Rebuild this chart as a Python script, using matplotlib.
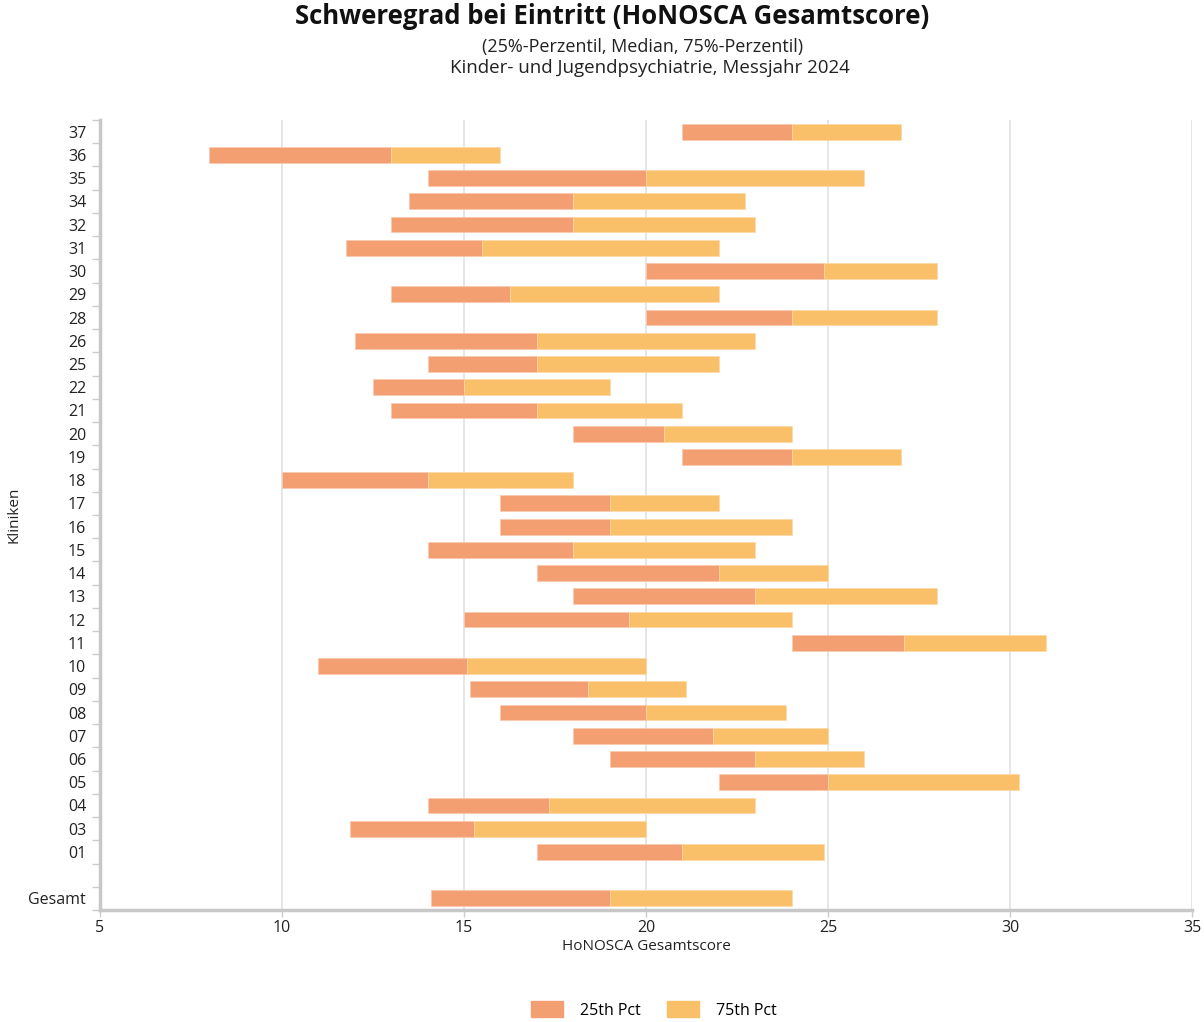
import numpy as np
import matplotlib
matplotlib.use('Agg')
import matplotlib.pyplot as plt
import matplotlib.patches as mpatches
from matplotlib.ticker import FixedLocator

# clinic labels, top to bottom ('' is the empty spacer row before Gesamt)
kliniken = ['37', '36', '35', '34', '32', '31', '30', '29', '28', '26', '25', '22',
            '21', '20', '19', '18', '17', '16', '15', '14', '13', '12', '11', '10',
            '09', '08', '07', '06', '05', '04', '03', '01', '', 'Gesamt']

p25 = [21, 8, 14, 13.5, 13, 11.75, 20, 13, 20, 12, 14, 12.5,
       13, 18, 21, 10, 16, 16, 14, 17, 18, 15, 24, 11,
       15.17, 16, 18, 19, 22, 14, 11.88, 17, np.nan, 14.09]
median = [24, 13, 20, 18, 18, 15.5, 24.9, 16.27, 24, 17, 17, 15,
          17, 20.5, 24, 14, 19, 19, 18, 22, 23, 19.52, 27.1, 15.08,
          18.42, 20, 21.83, 23, 25, 17.34, 15.28, 21, np.nan, 19]
p75 = [27, 16, 26, 22.72, 23, 22, 28, 22, 28, 23, 22, 19,
       21, 24, 27, 18, 22, 24, 23, 25, 28, 24, 31, 20,
       21.1, 23.85, 25, 26, 30.25, 23, 20, 24.9, np.nan, 24]

c25 = '#F39F72'
c75 = '#FABF69'
grey_txt = '#222222'

plt.rcParams['font.family'] = ['Open Sans', 'DejaVu Sans']

fig = plt.figure(figsize=(12.04, 10.22), dpi=100)
ax = fig.add_axes([100 / 1204, 1 - 910 / 1022, 1092 / 1204, 790 / 1022])

y = np.arange(len(kliniken))
lo = np.array(p25, dtype=float)
md = np.array(median, dtype=float)
hi = np.array(p75, dtype=float)

# lower half: 25th pct -> median, upper half: median -> 75th pct
ax.barh(y, md - lo, left=lo, height=0.68, color=c25, edgecolor='#f8c9ae',
        linewidth=0.5, zorder=3)
ax.barh(y, hi - md, left=md, height=0.68, color=c75, edgecolor='#fcd9a6',
        linewidth=0.5, zorder=3)

ax.set_xlim(5, 35)
ax.set_ylim(len(kliniken) - 0.5, -0.5)
ax.set_xticks([5, 10, 15, 20, 25, 30, 35])
ax.set_yticks(y)
ax.set_yticklabels(kliniken)
ax.yaxis.set_minor_locator(FixedLocator(np.arange(-0.5, len(kliniken), 1)))
ax.tick_params(axis='y', which='major', length=0, pad=10, labelsize=11.5,
               labelcolor=grey_txt)
ax.tick_params(axis='y', which='minor', length=6, width=1, color='#cccccc')
ax.tick_params(axis='x', which='major', length=5, width=1, color='#cccccc',
               labelsize=11.5, labelcolor=grey_txt, pad=2)

ax.grid(axis='x', color='#e4e4e4', linewidth=1.3, zorder=0)
ax.set_axisbelow(True)
for side in ['top', 'right']:
    ax.spines[side].set_visible(False)
for side in ['left', 'bottom']:
    ax.spines[side].set_color('#c8c8c8')
    ax.spines[side].set_linewidth(2.5)

ax.set_xlabel('HoNOSCA Gesamtscore', fontsize=11, color=grey_txt, labelpad=2)
fig.text(14 / 1204, 1 - 515 / 1022, 'Kliniken', rotation=90, ha='center',
         va='center', fontsize=11, color=grey_txt)

# titles
fig.text(612 / 1204, 1 - 16 / 1022, 'Schweregrad bei Eintritt (HoNOSCA Gesamtscore)',
         ha='center', va='center', fontsize=18.5, fontweight='bold', color='#111111')
fig.text(643 / 1204, 1 - 47 / 1022, '(25%-Perzentil, Median, 75%-Perzentil)',
         ha='center', va='center', fontsize=13, color=grey_txt)
fig.text(650 / 1204, 1 - 68 / 1022, 'Kinder- und Jugendpsychiatrie, Messjahr 2024',
         ha='center', va='center', fontsize=13.5, color=grey_txt)

handles = [mpatches.Patch(color=c25, label='25th Pct'),
           mpatches.Patch(color=c75, label='75th Pct')]
fig.legend(handles=handles, loc='center', bbox_to_anchor=(654 / 1204, 1 - 1010 / 1022),
           ncol=2, frameon=False, fontsize=11.5, handlelength=2.0, handleheight=1.1,
           columnspacing=1.6, handletextpad=1.1)

fig.savefig('out.png', dpi=100, facecolor='white')
